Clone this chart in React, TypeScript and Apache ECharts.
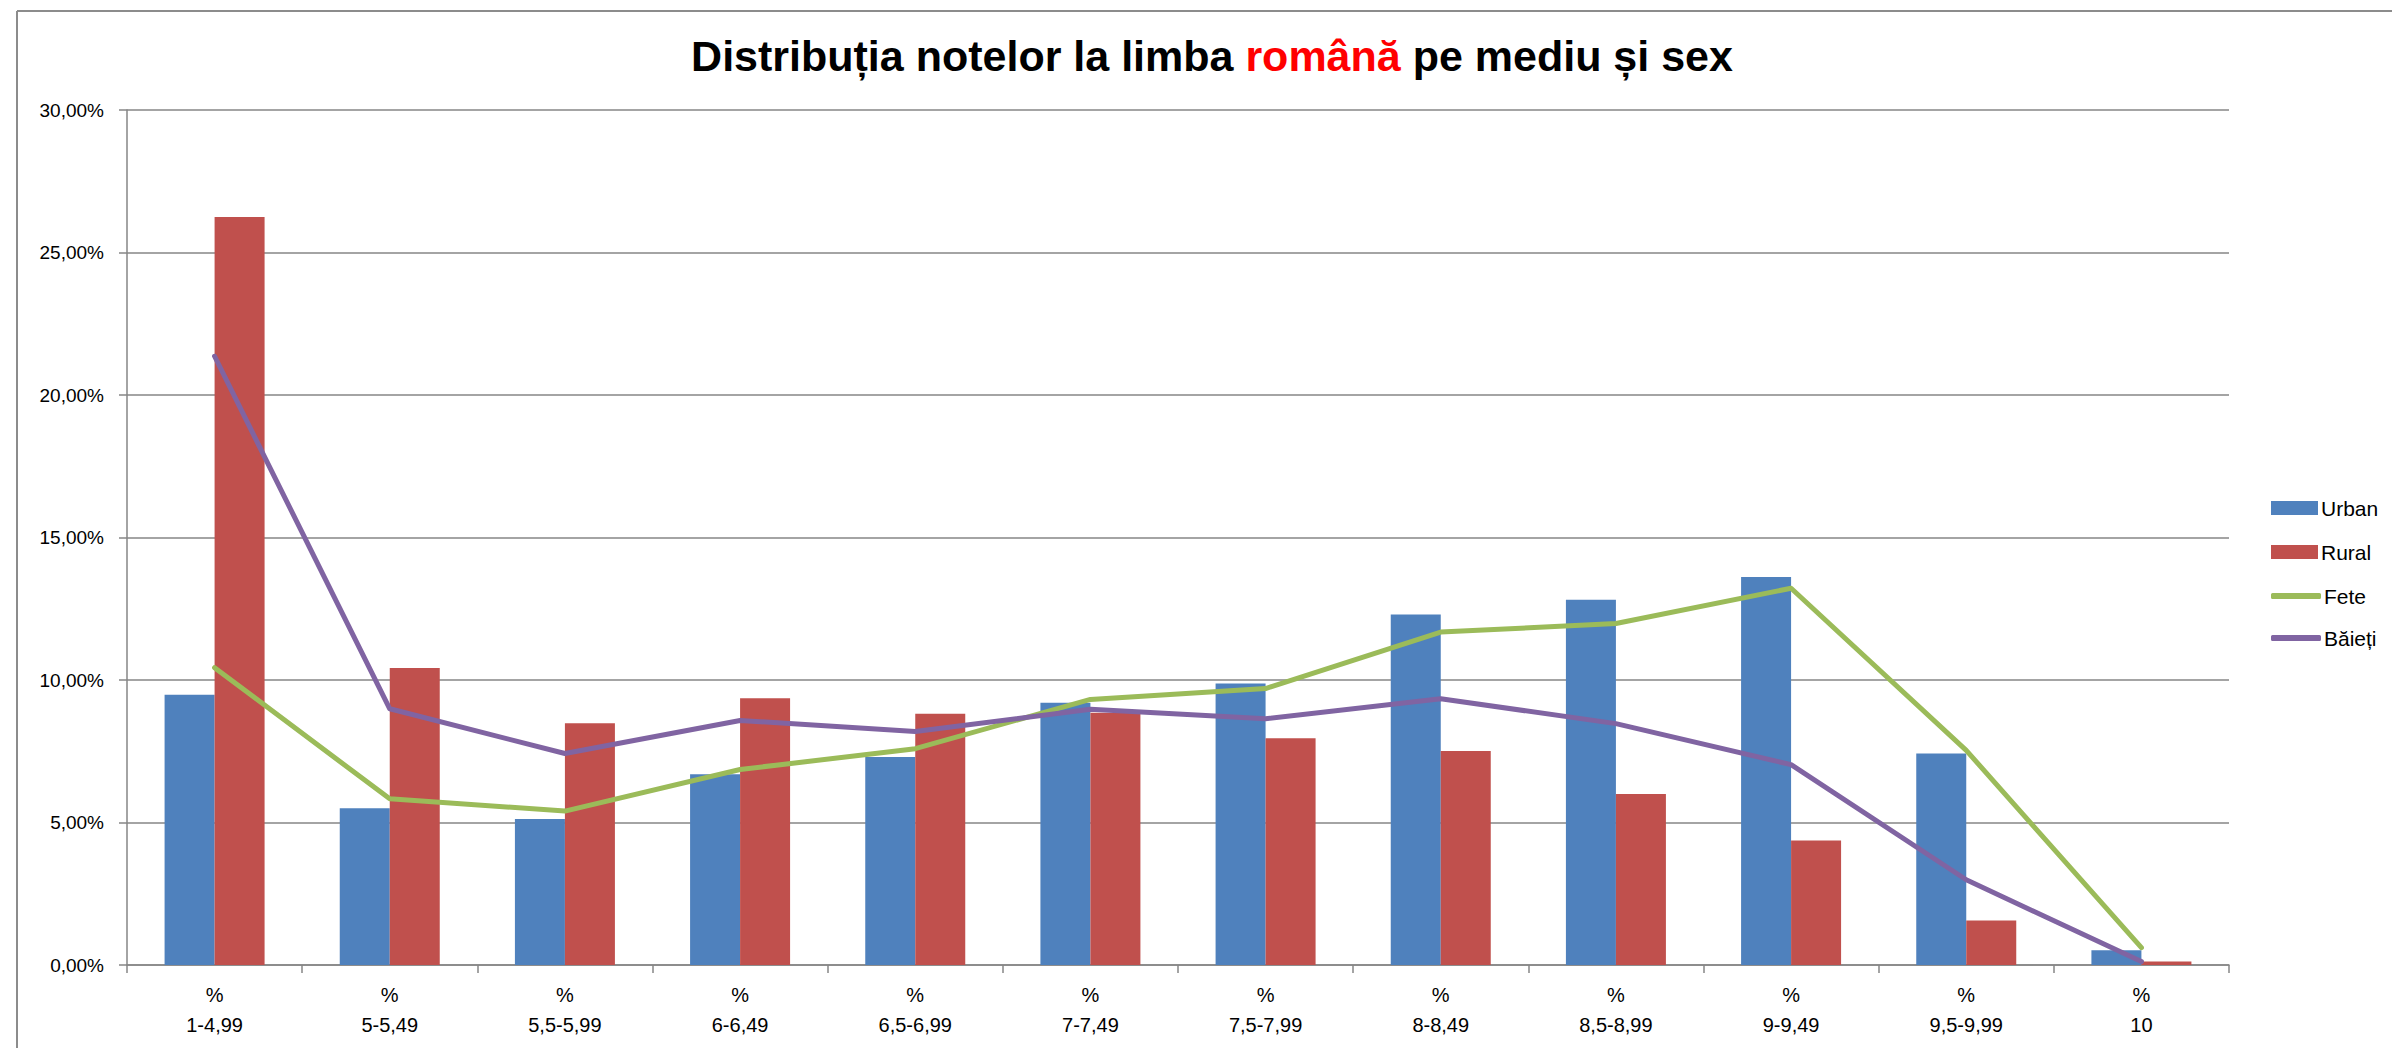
import React, { useEffect, useRef } from "react";
import * as echarts from "echarts";

const categories = ["1-4,99", "5-5,49", "5,5-5,99", "6-6,49", "6,5-6,99", "7-7,49", "7,5-7,99", "8-8,49", "8,5-8,99", "9-9,49", "9,5-9,99", "10"];
const urban = [9.48, 5.5, 5.12, 6.69, 7.3, 9.2, 9.88, 12.3, 12.82, 13.61, 7.42, 0.52];
const rural = [26.25, 10.42, 8.48, 9.36, 8.82, 8.85, 7.96, 7.51, 6.0, 4.37, 1.56, 0.12];
const fete = [10.43, 5.83, 5.4, 6.86, 7.59, 9.32, 9.7, 11.68, 11.98, 13.22, 7.53, 0.61];
const baieti = [21.36, 8.99, 7.42, 8.58, 8.19, 8.97, 8.64, 9.34, 8.47, 7.03, 2.99, 0.12];
const seriesNames = ["Urban", "Rural", "Fete", "Băieți"];
const colors = ["#4F81BD", "#C0504D", "#9BBB59", "#8064A2"];

const FONT = "'Liberation Sans', Arial, sans-serif";

export default function App() {
  const ref = useRef<HTMLDivElement>(null);
  useEffect(() => {
    document.body.style.margin = "0";
    if (!ref.current) return;
    const chart = echarts.init(ref.current, null, { renderer: "svg" });
    const legendCenters = [503, 547, 591, 633];
    const legends = seriesNames.map((name, i) => ({
      orient: "vertical",
      left: 2266,
      top: legendCenters[i] - 11,
      itemWidth: i < 2 ? 47 : 50,
      itemHeight: i < 2 ? 14 : 6,
      selectedMode: false,
      data: [{ name, icon: i < 2 ? "rect" : "roundRect" }],
      textStyle: { fontSize: 21, lineHeight: 22, fontFamily: FONT, color: "#000", padding: [0, 0, 0, -2] },
    }));
    chart.setOption({
      animation: false,
      backgroundColor: "#fff",
      color: colors,
      grid: { left: 127, right: 163, top: 110, bottom: 83, containLabel: false },
      legend: legends,
      graphic: [
        { type: "line", shape: { x1: 17, y1: 11, x2: 2392, y2: 11 }, style: { stroke: "#8c8c8c", lineWidth: 2 } },
        { type: "line", shape: { x1: 17, y1: 11, x2: 17, y2: 1048 }, style: { stroke: "#8c8c8c", lineWidth: 2 } },
        {
          type: "text",
          x: 1212,
          y: 56,
          style: {
            text: "Distribuția notelor la limba {r|română} pe mediu și sex",
            align: "center",
            verticalAlign: "middle",
            fontSize: 43,
            fontWeight: "bold",
            fontFamily: FONT,
            fill: "#000",
            rich: { r: { fill: "#FF0000", fontSize: 43, fontWeight: "bold", fontFamily: FONT } },
          },
        },
      ],
      xAxis: {
        type: "category",
        data: categories,
        boundaryGap: true,
        axisLine: { lineStyle: { color: "#868686", width: 1.5 } },
        axisTick: { show: true, length: 8, lineStyle: { color: "#868686", width: 1.5 } },
        axisLabel: {
          interval: 0,
          margin: 15,
          fontSize: 20,
          lineHeight: 30,
          fontFamily: FONT,
          color: "#000",
          formatter: (v: string) => "%\n" + v,
        },
      },
      yAxis: {
        type: "value",
        min: 0,
        max: 30,
        interval: 5,
        axisLine: { show: true, lineStyle: { color: "#868686", width: 1.5 } },
        axisTick: { show: true, length: 8, lineStyle: { color: "#868686", width: 1.5 } },
        splitLine: { lineStyle: { color: "#868686", width: 1.5 } },
        axisLabel: {
          margin: 23,
          fontSize: 19,
          fontFamily: FONT,
          color: "#000",
          formatter: (v: number) => v.toFixed(2).replace(".", ",") + "%",
        },
      },
      series: [
        { name: seriesNames[0], type: "bar", data: urban, barWidth: 50, barGap: "0%", itemStyle: { color: colors[0] } },
        { name: seriesNames[1], type: "bar", data: rural, barWidth: 50, barGap: "0%", itemStyle: { color: colors[1] } },
        { name: seriesNames[2], type: "line", data: fete, symbol: "none", lineStyle: { color: colors[2], width: 5, cap: "round", join: "round" }, itemStyle: { color: colors[2] } },
        { name: seriesNames[3], type: "line", data: baieti, symbol: "none", lineStyle: { color: colors[3], width: 5, cap: "round", join: "round" }, itemStyle: { color: colors[3] } },
      ],
    });
    return () => chart.dispose();
  }, []);
  return <div ref={ref} style={{ width: 2392, height: 1048 }} />;
}
